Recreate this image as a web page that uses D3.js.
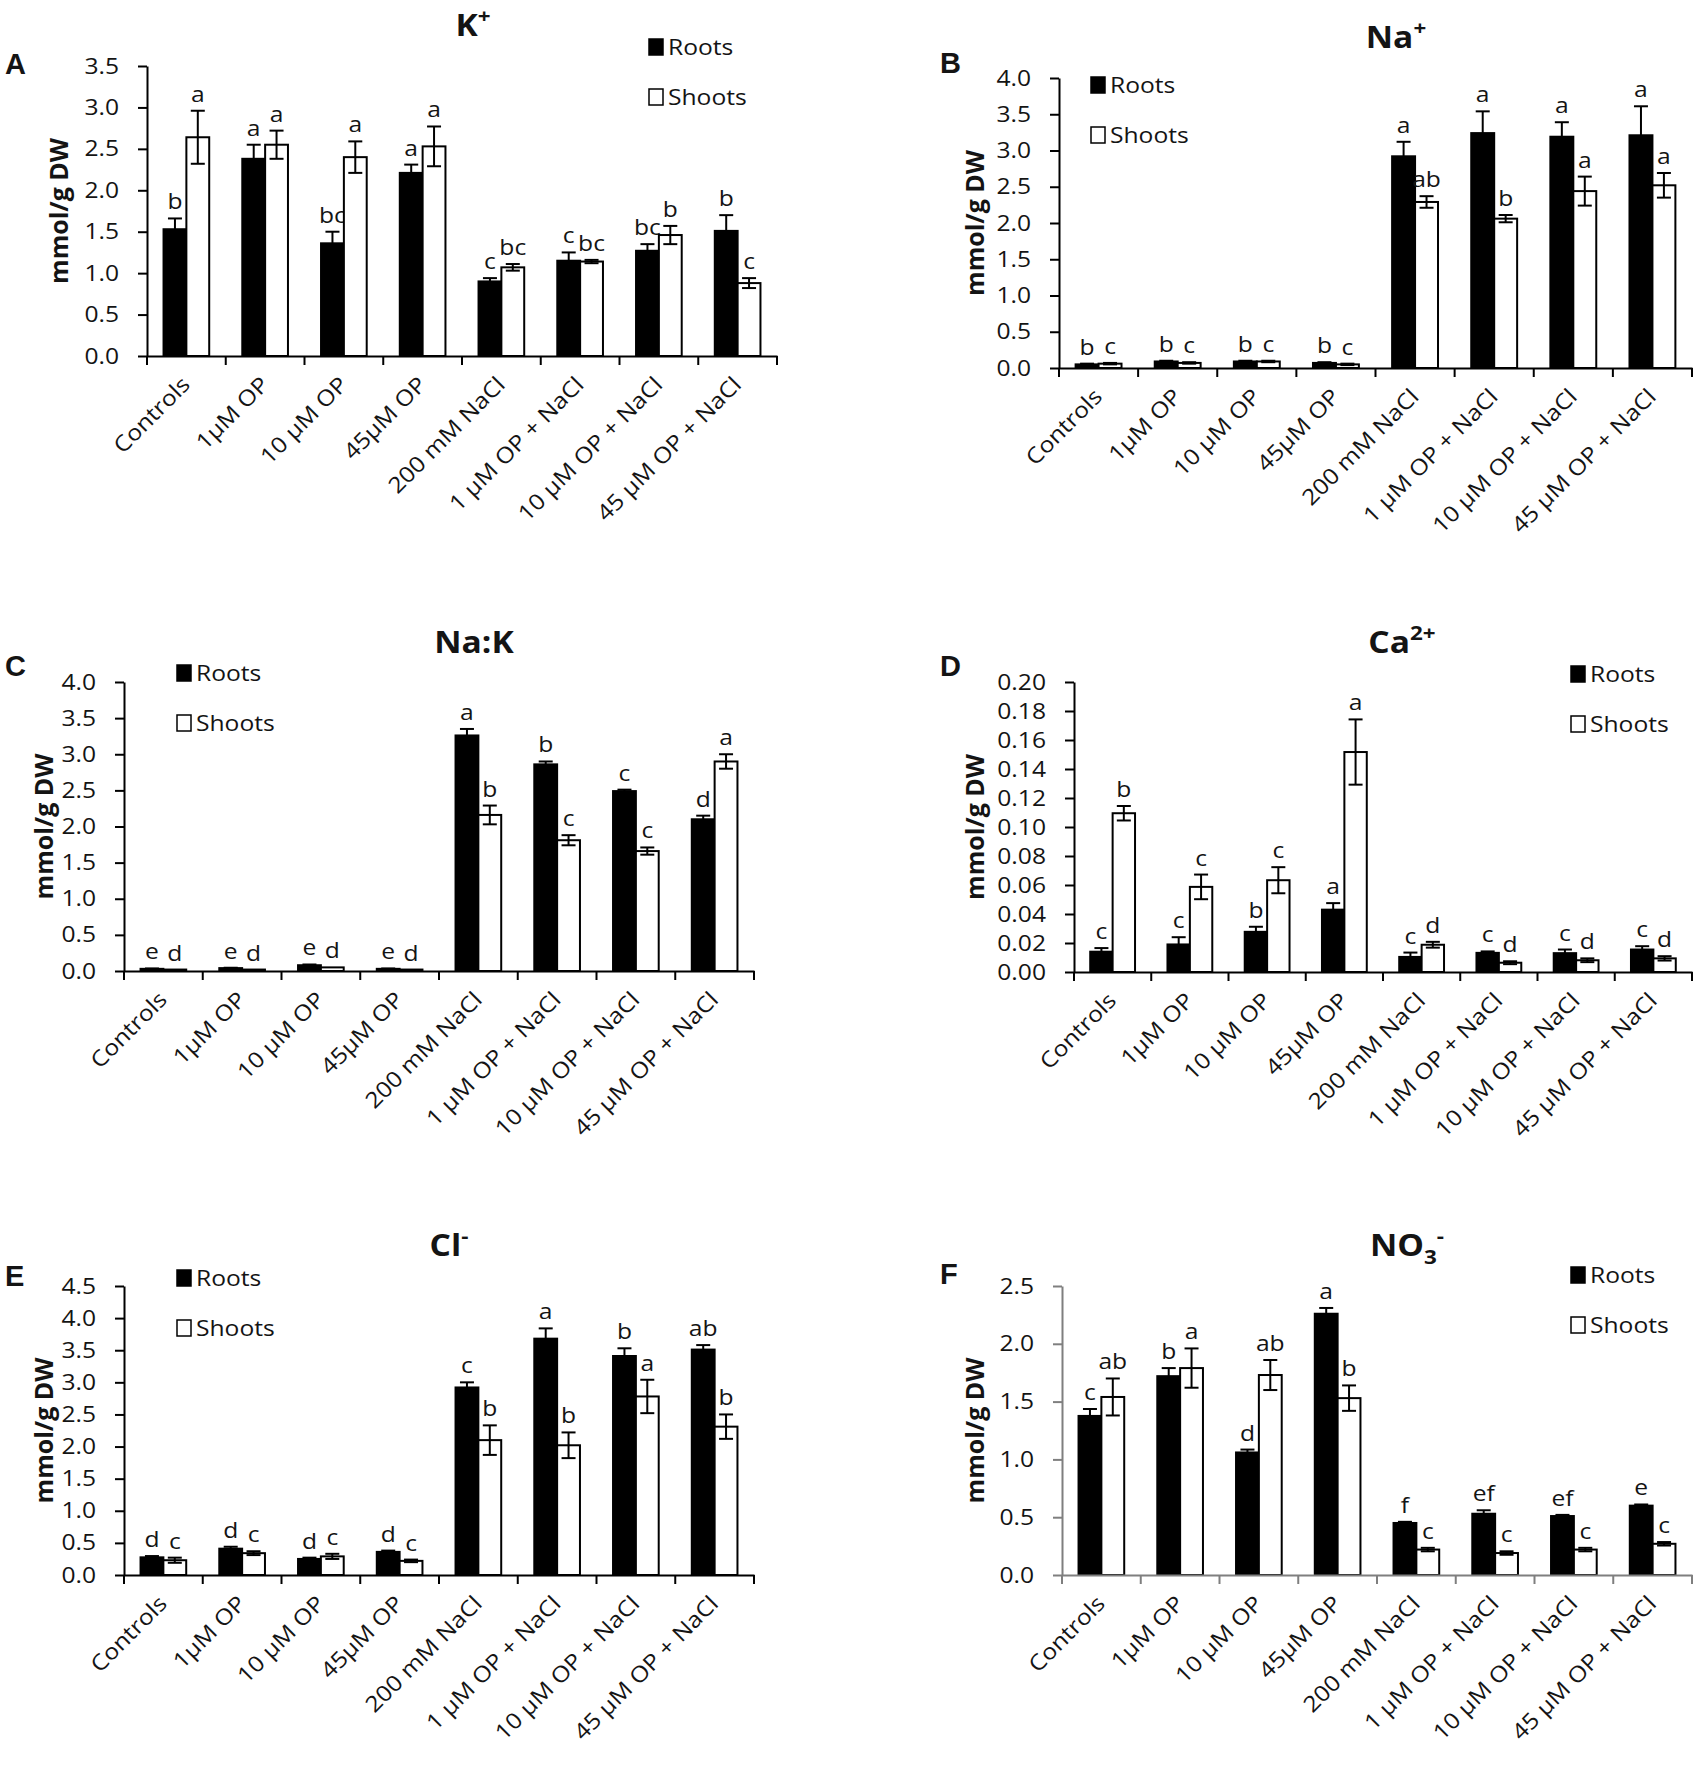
<!DOCTYPE html>
<html>
<head>
<meta charset="utf-8">
<script src="https://cdn.jsdelivr.net/npm/d3@7"></script>
<style>
  body { margin: 0; background: #fff; }
  text { font-family: "Open Sans", Lato, sans-serif; fill: #141414; }
</style>
</head>
<body>
<svg id="fig"></svg>
<script>
// treatments on the x axis (same for all six panels)
const categories = ['Controls', '1µM OP', '10 µM OP', '45µM OP', '200 mM NaCl',
  '1 µM OP + NaCl', '10 µM OP + NaCl', '45 µM OP + NaCl'];

// A: K+
const kRoots = [1.53, 2.38, 1.36, 2.21, 0.90, 1.15, 1.27, 1.51];
const kRootsErr = [0.13, 0.17, 0.14, 0.10, 0.04, 0.10, 0.08, 0.19];
const kShoots = [2.64, 2.55, 2.40, 2.53, 1.07, 1.14, 1.46, 0.88];
const kShootsErr = [0.32, 0.17, 0.19, 0.24, 0.04, 0.02, 0.11, 0.06];
const kRootsLetters = ['b', 'a', 'bc', 'a', 'c', 'c', 'bc', 'b'];
const kShootsLetters = ['a', 'a', 'a', 'a', 'bc', 'bc', 'b', 'c'];

// B: Na+
const naRoots = [0.05, 0.09, 0.09, 0.07, 2.92, 3.24, 3.19, 3.21];
const naRootsErr = [0.01, 0.01, 0.01, 0.01, 0.20, 0.30, 0.20, 0.40];
const naShoots = [0.06, 0.07, 0.09, 0.05, 2.29, 2.06, 2.44, 2.52];
const naShootsErr = [0.01, 0.01, 0.01, 0.01, 0.08, 0.05, 0.20, 0.17];
const naRootsLetters = ['b', 'b', 'b', 'b', 'a', 'a', 'a', 'a'];
const naShootsLetters = ['c', 'c', 'c', 'c', 'ab', 'b', 'a', 'a'];

// C: Na:K
const ratioRoots = [0.03, 0.04, 0.08, 0.03, 3.26, 2.86, 2.49, 2.10];
const ratioRootsErr = [0.005, 0.005, 0.01, 0.005, 0.09, 0.04, 0.02, 0.05];
const ratioShoots = [0.02, 0.02, 0.05, 0.02, 2.16, 1.81, 1.66, 2.90];
const ratioShootsErr = [0, 0, 0, 0, 0.13, 0.07, 0.05, 0.10];
const ratioRootsLetters = ['e', 'e', 'e', 'e', 'a', 'b', 'c', 'd'];
const ratioShootsLetters = ['d', 'd', 'd', 'd', 'b', 'c', 'c', 'a'];

// D: Ca2+
const caRoots = [0.014, 0.019, 0.0277, 0.043, 0.0104, 0.0132, 0.013, 0.0155];
const caRootsErr = [0.0025, 0.005, 0.0035, 0.0045, 0.003, 0.001, 0.0025, 0.0023];
const caShoots = [0.1095, 0.0587, 0.0633, 0.1517, 0.0188, 0.0064, 0.0081, 0.0094];
const caShootsErr = [0.005, 0.0085, 0.009, 0.0225, 0.002, 0.001, 0.0013, 0.0015];
const caRootsLetters = ['c', 'c', 'b', 'a', 'c', 'c', 'c', 'c'];
const caShootsLetters = ['b', 'c', 'c', 'a', 'd', 'd', 'd', 'd'];

// E: Cl-
const clRoots = [0.275, 0.41, 0.25, 0.36, 2.92, 3.68, 3.41, 3.51];
const clRootsErr = [0.02, 0.03, 0.02, 0.02, 0.08, 0.16, 0.12, 0.07];
const clShoots = [0.23, 0.34, 0.29, 0.22, 2.10, 2.02, 2.78, 2.31];
const clShootsErr = [0.04, 0.03, 0.04, 0.02, 0.23, 0.20, 0.26, 0.19];
const clRootsLetters = ['d', 'd', 'd', 'd', 'c', 'a', 'b', 'ab'];
const clShootsLetters = ['c', 'c', 'c', 'c', 'b', 'b', 'a', 'b'];

// F: NO3-
const no3Roots = [1.376, 1.72, 1.06, 2.26, 0.45, 0.53, 0.51, 0.60];
const no3RootsErr = [0.06, 0.07, 0.025, 0.05, 0.01, 0.03, 0.01, 0.01];
const no3Shoots = [1.54, 1.79, 1.73, 1.53, 0.22, 0.19, 0.22, 0.27];
const no3ShootsErr = [0.16, 0.17, 0.13, 0.11, 0.015, 0.015, 0.015, 0.015];
const no3RootsLetters = ['c', 'b', 'd', 'a', 'f', 'ef', 'ef', 'e'];
const no3ShootsLetters = ['ab', 'a', 'ab', 'b', 'c', 'c', 'c', 'c'];

// y axis tick values
const kTicks = [0, 0.5, 1.0, 1.5, 2.0, 2.5, 3.0, 3.5];
const naTicks = [0, 0.5, 1.0, 1.5, 2.0, 2.5, 3.0, 3.5, 4.0];
const caTicks = [0, 0.02, 0.04, 0.06, 0.08, 0.10, 0.12, 0.14, 0.16, 0.18, 0.20];
const clTicks = [0, 0.5, 1.0, 1.5, 2.0, 2.5, 3.0, 3.5, 4.0, 4.5];
const no3Ticks = [0, 0.5, 1.0, 1.5, 2.0, 2.5];

const width = 1708, height = 1770;
// the original figure's lettering is a little wider than it is tall
const sx = 1.12;

const svg = d3.select('#fig').attr('width', width).attr('height', height);
svg.append('rect').attr('width', width).attr('height', height).attr('fill', '#fff');

const panels = [
  { letter: 'A', title: [['K'], ['+', 'sup']], roots: kRoots, rootsErr: kRootsErr, shoots: kShoots, shootsErr: kShootsErr,
    rootsLetters: kRootsLetters, shootsLetters: kShootsLetters, ticks: kTicks, fmt: '.1f',
    left: 147, right: 777, top: 66, bottom: 356, titleX: 473, titleY: 36, letterX: 5, letterY: 74,
    legendX: 648, legendY: 47, ytitleX: 68 },
  { letter: 'B', title: [['Na'], ['+', 'sup']], roots: naRoots, rootsErr: naRootsErr, shoots: naShoots, shootsErr: naShootsErr,
    rootsLetters: naRootsLetters, shootsLetters: naShootsLetters, ticks: naTicks, fmt: '.1f',
    left: 1059, right: 1692, top: 78, bottom: 368, titleX: 1396, titleY: 48, letterX: 940, letterY: 73,
    legendX: 1090, legendY: 85, ytitleX: 984 },
  { letter: 'C', title: [['Na:K']], roots: ratioRoots, rootsErr: ratioRootsErr, shoots: ratioShoots, shootsErr: ratioShootsErr,
    rootsLetters: ratioRootsLetters, shootsLetters: ratioShootsLetters, ticks: naTicks, fmt: '.1f',
    left: 124, right: 754, top: 682, bottom: 971, titleX: 474, titleY: 653, letterX: 5, letterY: 676,
    legendX: 176, legendY: 673, ytitleX: 53 },
  { letter: 'D', title: [['Ca'], ['2+', 'sup']], roots: caRoots, rootsErr: caRootsErr, shoots: caShoots, shootsErr: caShootsErr,
    rootsLetters: caRootsLetters, shootsLetters: caShootsLetters, ticks: caTicks, fmt: '.2f',
    left: 1074, right: 1692, top: 682, bottom: 972, titleX: 1402, titleY: 653, letterX: 940, letterY: 676,
    legendX: 1570, legendY: 674, ytitleX: 984 },
  { letter: 'E', title: [['Cl'], ['-', 'sup']], roots: clRoots, rootsErr: clRootsErr, shoots: clShoots, shootsErr: clShootsErr,
    rootsLetters: clRootsLetters, shootsLetters: clShootsLetters, ticks: clTicks, fmt: '.1f',
    left: 124, right: 754, top: 1286, bottom: 1575, titleX: 449, titleY: 1256, letterX: 5, letterY: 1286,
    legendX: 176, legendY: 1278, ytitleX: 53 },
  { letter: 'F', title: [['NO'], ['3', 'sub'], ['-', 'sup']], roots: no3Roots, rootsErr: no3RootsErr, shoots: no3Shoots, shootsErr: no3ShootsErr,
    rootsLetters: no3RootsLetters, shootsLetters: no3ShootsLetters, ticks: no3Ticks, fmt: '.1f',
    left: 1062, right: 1692, top: 1286, bottom: 1575, titleX: 1407, titleY: 1256, letterX: 940, letterY: 1284,
    legendX: 1570, legendY: 1275, ytitleX: 984, axisColor: '#7f7f7f' }
];

// place a text at (x, y) with the horizontal stretch, optional rotation
function place(x, y, rot) {
  return `translate(${x},${y}) scale(${sx},1)` + (rot ? ` rotate(${rot})` : '');
}

function drawPanel(p) {
  const g = svg.append('g');
  const axisColor = p.axisColor || '#000';

  // scales
  const x = d3.scaleBand().domain(categories).range([p.left, p.right]);
  const y = d3.scaleLinear().domain([0, p.ticks[p.ticks.length - 1]]).range([p.bottom, p.top]);
  const bw = x.bandwidth() * 0.29;

  const series = [
    { vals: p.roots, err: p.rootsErr, letters: p.rootsLetters, fill: '#000', off: -bw },
    { vals: p.shoots, err: p.shootsErr, letters: p.shootsLetters, fill: '#fff', off: 0 }
  ];

  series.forEach(s => {
    const rows = categories.map((c, i) => ({ c, v: s.vals[i], e: s.err[i], l: s.letters[i] }));
    const cx = d => x(d.c) + x.bandwidth() / 2 + s.off + bw / 2;

    g.selectAll(null).data(rows).join('rect')
      .attr('x', d => x(d.c) + x.bandwidth() / 2 + s.off)
      .attr('y', d => y(d.v))
      .attr('width', bw)
      .attr('height', d => y(0) - y(d.v))
      .attr('fill', s.fill)
      .attr('stroke', '#000')
      .attr('stroke-width', 2);

    // error bars
    const eb = g.selectAll(null).data(rows.filter(d => d.e > 0)).join('g');
    eb.append('line')
      .attr('x1', cx).attr('x2', cx)
      .attr('y1', d => y(d.v - d.e)).attr('y2', d => y(d.v + d.e))
      .attr('stroke', '#000').attr('stroke-width', 2);
    [1, -1].forEach(sign => {
      eb.append('line')
        .attr('x1', d => cx(d) - 7).attr('x2', d => cx(d) + 7)
        .attr('y1', d => y(d.v + sign * d.e)).attr('y2', d => y(d.v + sign * d.e))
        .attr('stroke', '#000').attr('stroke-width', 2);
    });

    // significance letters
    g.selectAll(null).data(rows).join('text')
      .attr('transform', d => place(cx(d), y(d.v + d.e) - 9))
      .attr('text-anchor', 'middle')
      .style('font-size', '22px')
      .text(d => d.l);
  });

  // y axis
  const yAxis = g.append('g')
    .attr('transform', `translate(${p.left},0)`)
    .call(d3.axisLeft(y).tickValues(p.ticks).tickFormat(d3.format(p.fmt)).tickSize(9).tickSizeOuter(0).tickPadding(20));
  yAxis.selectAll('text')
    .style('font-size', '22px')
    .style('font-family', '"Open Sans", Lato, sans-serif')
    .attr('fill', '#141414')
    .attr('transform', `scale(${sx},1)`)
    .attr('x', -28 / sx);
  yAxis.selectAll('line').attr('stroke', axisColor).attr('stroke-width', 2);
  yAxis.select('.domain').attr('stroke', axisColor).attr('stroke-width', 2);

  // x axis: line with ticks at category boundaries
  const xAxis = g.append('g')
    .attr('transform', `translate(0,${p.bottom})`)
    .call(d3.axisBottom(x).tickSize(0).tickFormat(''));
  xAxis.select('.domain').attr('stroke', axisColor).attr('stroke-width', 2);
  const bounds = categories.map(c => x(c)).concat([p.right]);
  xAxis.selectAll('.bound').data(bounds).join('line')
    .attr('class', 'bound')
    .attr('x1', d => d).attr('x2', d => d)
    .attr('y1', 0).attr('y2', 9)
    .attr('stroke', axisColor).attr('stroke-width', 2);

  // rotated category labels (wide lettering along the text direction)
  g.selectAll(null).data(categories).join('text')
    .attr('transform', d => `translate(${x(d) + x.bandwidth() / 2 + 5},${p.bottom + 30}) rotate(-45) scale(${sx},1)`)
    .attr('text-anchor', 'end')
    .style('font-size', '22px')
    .text(d => d);

  // y axis title
  g.append('text')
    .attr('transform', `translate(${p.ytitleX},${(p.top + p.bottom) / 2}) rotate(-90)`)
    .attr('text-anchor', 'middle')
    .style('font-size', '25px')
    .style('font-weight', 'bold')
    .text('mmol/g DW');

  // panel title
  const t = g.append('text')
    .attr('transform', place(p.titleX, p.titleY))
    .attr('text-anchor', 'middle')
    .style('font-size', '30px')
    .style('font-weight', 'bold');
  let shift = 0;
  p.title.forEach(([str, kind]) => {
    let dy;
    if (kind === 'sup') { dy = -13 - shift; shift = -13; }
    else if (kind === 'sub') { dy = 8 - shift; shift = 8; }
    else { dy = -shift; shift = 0; }
    t.append('tspan').attr('dy', dy).style('font-size', kind ? '20px' : '30px').text(str);
  });

  // panel letter
  g.append('text')
    .attr('x', p.letterX).attr('y', p.letterY)
    .style('font-family', '"Liberation Sans", Arial, sans-serif')
    .style('font-size', '29px')
    .style('font-weight', 'bold')
    .text(p.letter);

  // legend
  const legend = g.append('g').attr('transform', `translate(${p.legendX},${p.legendY})`);
  [['Roots', '#000'], ['Shoots', '#fff']].forEach(([name, fill], i) => {
    legend.append('rect')
      .attr('x', 1).attr('y', i * 50 - 8)
      .attr('width', 14).attr('height', 16)
      .attr('fill', fill).attr('stroke', '#000').attr('stroke-width', 1.5);
    legend.append('text')
      .attr('transform', place(20, i * 50 + 8))
      .style('font-size', '22px')
      .text(name);
  });
}

panels.forEach(drawPanel);
</script>
</body>
</html>
